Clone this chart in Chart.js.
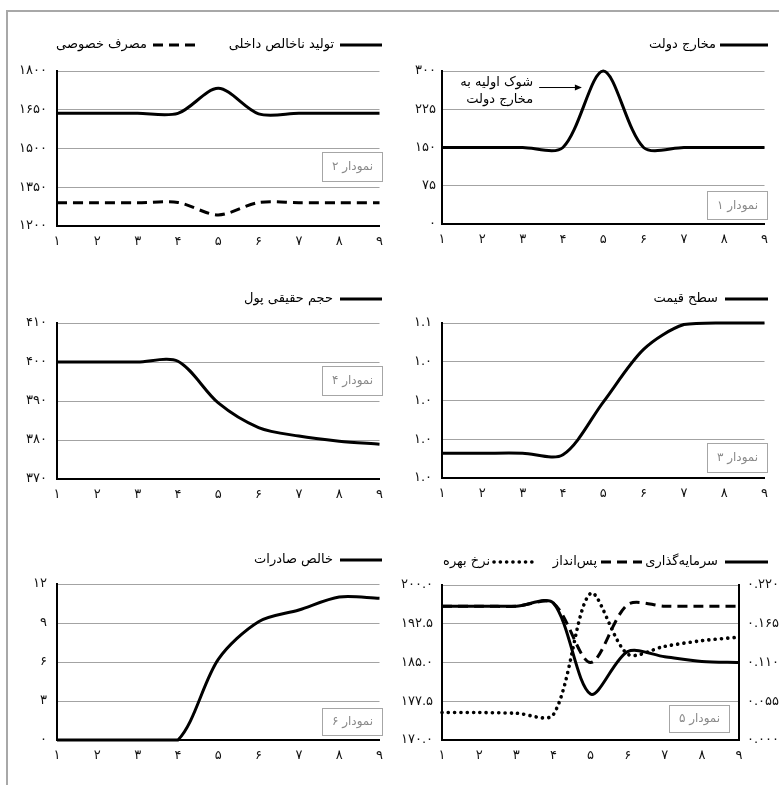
<!DOCTYPE html>
<html><head><meta charset="utf-8">
<script src="https://cdn.jsdelivr.net/npm/chart.js@4.4.1/dist/chart.umd.min.js"></script>
<style>
html,body{margin:0;padding:0;background:#fff;}
body{width:779px;height:785px;position:relative;overflow:hidden;font-family:"DejaVu Sans";}
#frame{position:absolute;left:6px;top:10px;width:800px;height:800px;border-left:2px solid #a8a8a8;border-top:2px solid #a8a8a8;}
canvas{position:absolute;}
</style></head><body>
<div id="frame"></div>
<canvas id="p1"></canvas><canvas id="p2"></canvas>
<canvas id="p3"></canvas><canvas id="p4"></canvas>
<canvas id="p5"></canvas><canvas id="p6"></canvas>
<script>
// ---------- data ----------
const periods = ['۱','۲','۳','۴','۵','۶','۷','۸','۹'];
const govSpending   = [150,150,150,150,300,150,150,150,150];
const gdp           = [1636,1636,1636,1636,1733,1634,1636,1636,1636];
const consumption   = [1290,1290,1290,1291,1243,1291,1290,1290,1290];
const priceLevel    = [1.016,1.016,1.016,1.015,1.049,1.083,1.099,1.1,1.1];
const realMoney     = [400,400,400,400.2,389.5,383.2,381,379.7,378.9];
const investment    = [195.9,195.9,195.9,196.5,178.9,187.1,186.1,185.2,185.0];
const saving        = [195.9,195.9,195.9,196.5,185.0,196.2,195.9,195.9,195.9];
const interestRate  = [0.039,0.039,0.038,0.036,0.208,0.122,0.133,0.141,0.146];
const netExports    = [0,0,0,0,6.2,9.1,10.0,11.0,10.9];

const gTicks = [0,75,150,225,300];          const gTickLabels = ['۰','۷۵','۱۵۰','۲۲۵','۳۰۰'];
const yTicks = [1200,1350,1500,1650,1800];  const yTickLabels = ['۱۲۰۰','۱۳۵۰','۱۵۰۰','۱۶۵۰','۱۸۰۰'];
const pTicks = [1,1.025,1.05,1.075,1.1];    const pTickLabels = ['۱.۰','۱.۰','۱.۰','۱.۰','۱.۱'];
const mTicks = [370,380,390,400,410];       const mTickLabels = ['۳۷۰','۳۸۰','۳۹۰','۴۰۰','۴۱۰'];
const iTicks = [170,177.5,185,192.5,200];   const iTickLabels = ['۱۷۰.۰','۱۷۷.۵','۱۸۵.۰','۱۹۲.۵','۲۰۰.۰'];
const rTicks = [0,0.055,0.11,0.165,0.22];   const rTickLabels = ['۰.۰۰۰','۰.۰۵۵','۰.۱۱۰','۰.۱۶۵','۰.۲۲۰'];
const nxTicks = [0,3,6,9,12];               const nxTickLabels = ['۰','۳','۶','۹','۱۲'];

const seriesNames = {
  g:'مخارج دولت', y:'تولید ناخالص داخلی', c:'مصرف خصوصی', p:'سطح قیمت', m:'حجم حقیقی پول',
  i:'سرمایه\u200cگذاری', s:'پس\u200cانداز', r:'نرخ بهره', nx:'خالص صادرات'
};
const panelNames = ['نمودار ۱','نمودار ۲','نمودار ۳','نمودار ۴','نمودار ۵','نمودار ۶'];
const annotationLines = ['شوک اولیه به','مخارج دولت'];

// ---------- helpers ----------
const FONT = '"DejaVu Sans"';
Chart.defaults.font.family = FONT;
Chart.defaults.color = '#111';

const decor = {
  id: 'decor',
  afterDraw(chart, args, o) {
    const ctx = chart.ctx;
    const ox = chart.canvas.offsetLeft, oy = chart.canvas.offsetTop;
    ctx.save();
    (o.legend || []).forEach((it, i) => {
      const ds = chart.data.datasets[i];
      const y = o.legendY - oy;
      ctx.save();
      ctx.beginPath();
      ctx.strokeStyle = ds.borderColor;
      ctx.lineWidth = ds.borderWidth;
      ctx.setLineDash(ds.borderDash || []);
      ctx.lineCap = ds.borderCapStyle || 'butt';
      ctx.moveTo(it.x0 - ox, y); ctx.lineTo(it.x1 - ox, y); ctx.stroke();
      ctx.restore();
      ctx.font = '13px ' + FONT;
      ctx.fillStyle = '#000';
      ctx.textBaseline = 'middle';
      ctx.direction = 'rtl';
      ctx.textAlign = 'right';
      ctx.fillText(ds.label, it.tx - ox, y);
    });
    if (o.box) {
      const b = o.box;
      ctx.fillStyle = '#fff';
      ctx.fillRect(b.x - ox, b.y - oy, b.w, b.h);
      ctx.strokeStyle = '#a6a6a6'; ctx.lineWidth = 1; ctx.setLineDash([]);
      ctx.strokeRect(b.x - ox + 0.5, b.y - oy + 0.5, b.w - 1, b.h - 1);
      ctx.fillStyle = '#8a8a8a';
      ctx.font = '12px ' + FONT;
      ctx.textAlign = 'center'; ctx.textBaseline = 'middle'; ctx.direction = 'rtl';
      ctx.fillText(b.text, b.x - ox + b.w / 2, b.y - oy + b.h / 2);
    }
    if (o.arrow) {
      const a = o.arrow, xs = chart.scales.x, ys = chart.scales.y;
      const x0 = xs.getPixelForValue(a.from), x1 = xs.getPixelForValue(a.to), y = ys.getPixelForValue(a.level);
      ctx.strokeStyle = '#000'; ctx.lineWidth = 1; ctx.setLineDash([]);
      ctx.beginPath(); ctx.moveTo(x0, y); ctx.lineTo(x1 - 5, y); ctx.stroke();
      ctx.fillStyle = '#000';
      ctx.beginPath(); ctx.moveTo(x1, y); ctx.lineTo(x1 - 7, y - 3); ctx.lineTo(x1 - 7, y + 3); ctx.closePath(); ctx.fill();
      ctx.font = '13px ' + FONT;
      ctx.textAlign = 'right'; ctx.textBaseline = 'middle'; ctx.direction = 'rtl';
      ctx.fillText(a.lines[0], x0 - 6, y - 5);
      ctx.fillText(a.lines[1], x0 - 6, y + 12);
    }
    ctx.restore();
  }
};
Chart.register(decor);

function lineDs(label, data, kind, axis) {
  const d = { label, data, borderColor:'#000', backgroundColor:'#000', borderWidth:3,
    pointRadius:0, tension:0.3, fill:false, clip:6, yAxisID: axis || 'y' };
  if (kind === 'dash') { d.borderDash = [10,6]; }
  if (kind === 'dot') { d.borderDash = [0.1,6.2]; d.borderCapStyle = 'round'; d.borderWidth = 3.6; }
  return d;
}

function yScale(ticks, labels, width, pad, pos) {
  return {
    position: pos || 'left', min: ticks[0], max: ticks[ticks.length - 1],
    afterBuildTicks: s => { s.ticks = ticks.map(v => ({ value: v })); },
    afterFit: s => { s.width = width; },
    ticks: { callback: (v, i) => labels[i], padding: pad, font: { size: 13 }, color: '#111' },
    grid: { display: pos !== 'right', color: '#a3a3a3', lineWidth: 1, drawTicks: false },
    border: { display: true, color: '#000', width: 2 }
  };
}

function makePanel(id, box, datasets, scales, pad, decorOpts) {
  const cv = document.getElementById(id);
  cv.width = box.w; cv.height = box.h;
  cv.style.left = box.x + 'px'; cv.style.top = box.y + 'px';
  cv.style.width = box.w + 'px'; cv.style.height = box.h + 'px';
  scales.x = {
    type: 'category', offset: false,
    afterFit: s => { s.height = 30; },
    ticks: { padding: 8, font: { size: 13 }, color: '#111', maxRotation: 0, autoSkip: false },
    grid: { display: false, drawTicks: false },
    border: { display: true, color: '#000', width: 2 }
  };
  return new Chart(cv, {
    type: 'line',
    data: { labels: periods, datasets },
    options: {
      responsive: false, animation: false, devicePixelRatio: 1,
      layout: { padding: { left: 0, right: pad.r, top: pad.t, bottom: 0 } },
      scales,
      plugins: { legend: { display: false }, tooltip: { enabled: false }, decor: decorOpts }
    }
  });
}

// ---------- panels ----------
// نمودار ۱ : مخارج دولت
makePanel('p1', {x:390, y:20, w:386, h:234},
  [lineDs(seriesNames.g, govSpending)],
  { y: yScale(gTicks, gTickLabels, 52, 6) }, {r:8, t:51},
  { legendY:45, legend:[{x0:720, x1:768, tx:716}],
    box:{x:707, y:191, w:61, h:29, text:panelNames[0]},
    arrow:{from:2.41, to:3.47, level:267.6, lines:annotationLines} });

// نمودار ۲ : تولید و مصرف
makePanel('p2', {x:0, y:20, w:391, h:236},
  [lineDs(seriesNames.y, gdp), lineDs(seriesNames.c, consumption, 'dash')],
  { y: yScale(yTicks, yTickLabels, 57, 10) }, {r:8, t:51},
  { legendY:45, legend:[{x0:340, x1:382, tx:334}, {x0:153, x1:197, tx:147}],
    box:{x:322, y:152, w:61, h:30, text:panelNames[1]} });

// نمودار ۳ : سطح قیمت
makePanel('p3', {x:390, y:270, w:386, h:238},
  [lineDs(seriesNames.p, priceLevel)],
  { y: yScale(pTicks, pTickLabels, 52, 10) }, {r:8, t:53},
  { legendY:299, legend:[{x0:725, x1:768, tx:718}],
    box:{x:707, y:443, w:61, h:30, text:panelNames[2]} });

// نمودار ۴ : حجم حقیقی پول
makePanel('p4', {x:0, y:270, w:391, h:239},
  [lineDs(seriesNames.m, realMoney)],
  { y: yScale(mTicks, mTickLabels, 57, 10) }, {r:8, t:53},
  { legendY:299, legend:[{x0:340, x1:382, tx:333}],
    box:{x:322, y:366, w:61, h:30, text:panelNames[3]} });

// نمودار ۵ : سرمایه‌گذاری، پس‌انداز، نرخ بهره
makePanel('p5', {x:390, y:530, w:389, h:240},
  [lineDs(seriesNames.i, investment), lineDs(seriesNames.s, saving, 'dash'), lineDs(seriesNames.r, interestRate, 'dot', 'y1')],
  { y: yScale(iTicks, iTickLabels, 52, 9), y1: yScale(rTicks, rTickLabels, 40, 8, 'right') }, {r:0, t:55},
  { legendY:562, legend:[{x0:725, x1:768, tx:718}, {x0:601, x1:642, tx:597}, {x0:494, x1:534, tx:490}],
    box:{x:669, y:705, w:61, h:28, text:panelNames[4]} });

// نمودار ۶ : خالص صادرات
makePanel('p6', {x:0, y:530, w:391, h:240},
  [lineDs(seriesNames.nx, netExports)],
  { y: yScale(nxTicks, nxTickLabels, 57, 10) }, {r:8, t:54},
  { legendY:560, legend:[{x0:340, x1:382, tx:333}],
    box:{x:322, y:708, w:61, h:28, text:panelNames[5]} });
</script>
</body></html>
